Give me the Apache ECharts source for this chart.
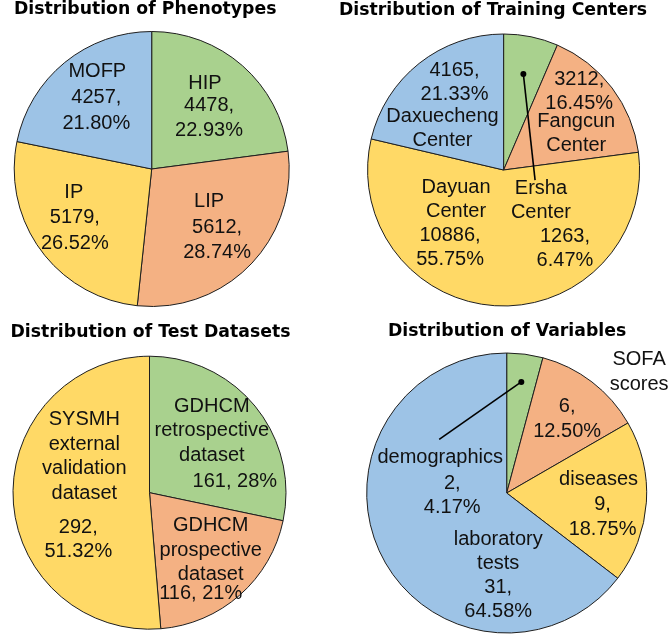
<!DOCTYPE html>
<html>
<head>
<meta charset="utf-8">
<script src="https://cdn.jsdelivr.net/npm/echarts@6/dist/echarts.min.js"></script>
<style>
  html, body { margin: 0; padding: 0; background: #fff; }
  #chart { width: 672px; height: 635px; }
</style>
</head>
<body>
<div id="chart"></div>
<script>
// ---- data ----
const phenoNames = ["HIP", "LIP", "IP", "MOFP"];
const phenoCounts = [4478, 5612, 5179, 4257];
const phenoPct = ["22.93%", "28.74%", "26.52%", "21.80%"];

const centerNames = ["Ersha Center", "Fangcun Center", "Dayuan Center", "Daxuecheng Center"];
const centerCounts = [1263, 3212, 10886, 4165];
const centerPct = ["6.47%", "16.45%", "55.75%", "21.33%"];

const testNames = ["GDHCM retrospective dataset", "GDHCM prospective dataset", "SYSMH external validation dataset"];
const testCounts = [161, 116, 292];
const testPct = ["28%", "21%", "51.32%"];

const varNames = ["demographics", "SOFA scores", "diseases", "laboratory tests"];
const varCounts = [2, 6, 9, 31];
const varPct = ["4.17%", "12.50%", "18.75%", "64.58%"];

// ---- style ----
const sliceColors = ["#A9D18E", "#F4B183", "#FFD966", "#9DC3E6"];
const labelFont = "Liberation Sans, Arial, sans-serif";

const panels = [
  {
    title: "Distribution of Phenotypes", names: phenoNames, counts: phenoCounts, pct: phenoPct,
    center: [151.7, 169], radius: 137.5, titlePos: [14, 1.5], lineHeight: 25.5,
    sep: ["\n", "\n", "\n", "\n"],
    nameNudge: [[6, -32], [6, -18], [-20, -19], [-9, -42]],
    valueNudge: [[10, 3], [14, 21], [-19, 19], [-10, -3]]
  },
  {
    title: "Distribution of Training Centers", names: centerNames, counts: centerCounts, pct: centerPct,
    center: [503.6, 170], radius: 136, titlePos: [339, 2], lineHeight: 24,
    sep: ["\n", "\n", "\n", "\n"],
    nameNudge: [[23, 100], [16, 6], [-44, -41], [-17, 14]],
    valueNudge: [[47, 148], [19, -36], [-50, 7], [-5, -32]]
  },
  {
    title: "Distribution of Test Datasets", names: testNames, counts: testCounts, pct: testPct,
    center: [149.5, 492.7], radius: 136.5, titlePos: [10.5, 324.5], lineHeight: 24.5,
    sep: [" ", " ", "\n"],
    nameNudge: [[7, -17], [14, 4], [6, -39]],
    valueNudge: [[30, 34], [4, 47], [0, 44]]
  },
  {
    title: "Distribution of Variables", names: varNames, counts: varCounts, pct: varPct,
    center: [506.7, 493], radius: 140, titlePos: [388, 323], lineHeight: 24.5,
    sep: ["\n", "\n", "\n", "\n"],
    nameNudge: [[-76, 37], [88, -63], [19, -18], [57, 26]],
    valueNudge: [[-64, 75], [16, -16], [23, 19], [57, 74]]
  }
];

// leader lines: dot on the slice bisector, line to the label
const leaders = [
  { panel: 1, item: 0, dotR: 0.72, endR: 0.243, endAngle: 107.7 },
  { panel: 3, item: 0, dotR: 0.8, endR: 0.616, endAngle: 308.5 }
];

function pieData(p) {
  return p.counts.map((v, i) => ({
    value: v,
    name: p.names[i],
    itemStyle: { color: sliceColors[i] }
  }));
}

function polar(p, frac, deg) {
  const a = deg * Math.PI / 180;
  const r = p.radius * frac;
  return [p.center[0] + r * Math.sin(a), p.center[1] - r * Math.cos(a)];
}

function midAngle(p, idx) {
  const total = p.counts.reduce((s, v) => s + v, 0);
  let cum = 0;
  for (let i = 0; i < idx; i++) cum += p.counts[i];
  return (cum + p.counts[idx] / 2) / total * 360;
}

const series = [];
panels.forEach((p) => {
  const base = {
    type: "pie",
    center: p.center,
    radius: p.radius,
    startAngle: 90,
    clockwise: true,
    animation: false,
    emphasis: { disabled: true },
    labelLine: { show: false }
  };
  // slices + name labels
  series.push({
    ...base,
    data: pieData(p),
    itemStyle: { borderColor: "#1f1f1f", borderWidth: 1 },
    label: {
      show: true,
      position: "inside",
      color: "#111",
      fontFamily: labelFont,
      fontSize: 20,
      lineHeight: p.lineHeight,
      formatter: (d) => d.name.split(" ").join("\n")
    },
    labelLayout: (prm) => ({ dx: p.nameNudge[prm.dataIndex][0], dy: p.nameNudge[prm.dataIndex][1] })
  });
  // value labels (transparent overlay)
  series.push({
    ...base,
    silent: true,
    data: pieData(p).map((d) => ({ ...d, itemStyle: { color: "rgba(0,0,0,0)" } })),
    itemStyle: { borderWidth: 0 },
    label: {
      show: true,
      position: "inside",
      color: "#111",
      fontFamily: labelFont,
      fontSize: 20,
      lineHeight: p.lineHeight,
      formatter: (d) => d.value + "," + p.sep[d.dataIndex] + p.pct[d.dataIndex]
    },
    labelLayout: (prm) => ({ dx: p.valueNudge[prm.dataIndex][0], dy: p.valueNudge[prm.dataIndex][1] })
  });
});

const graphic = [];
leaders.forEach((l) => {
  const p = panels[l.panel];
  const dot = polar(p, l.dotR, midAngle(p, l.item));
  const end = polar(p, l.endR, l.endAngle);
  graphic.push({
    type: "line",
    z: 100,
    shape: { x1: dot[0], y1: dot[1], x2: end[0], y2: end[1] },
    style: { stroke: "#000", lineWidth: 1.6 }
  });
  graphic.push({
    type: "circle",
    z: 100,
    shape: { cx: dot[0], cy: dot[1], r: 3 },
    style: { fill: "#000" }
  });
});

const chart = echarts.init(document.getElementById("chart"), null, { renderer: "canvas" });
chart.setOption({
  backgroundColor: "#fff",
  animation: false,
  title: panels.map((p) => ({
    text: p.title,
    left: p.titlePos[0],
    top: p.titlePos[1],
    padding: 0,
    textStyle: {
      fontFamily: "DejaVu Sans",
      fontWeight: "bold",
      fontSize: 17.3,
      color: "#000"
    }
  })),
  series: series,
  graphic: graphic
});
</script>
</body>
</html>
